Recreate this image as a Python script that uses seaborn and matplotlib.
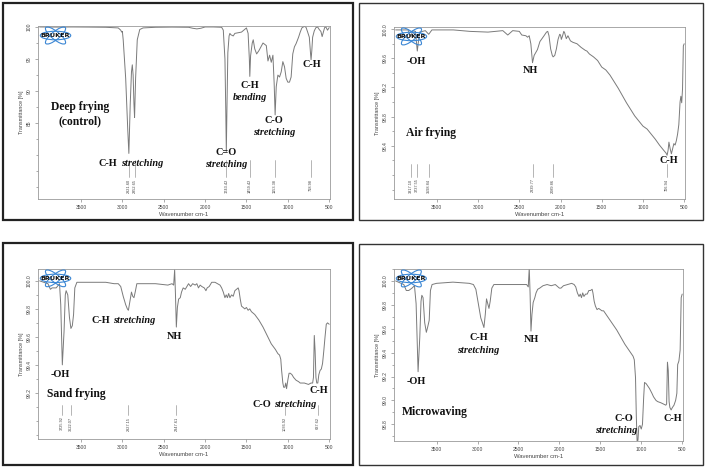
import seaborn as sns
import numpy as np
import pandas as pd
import matplotlib.pyplot as plt
from matplotlib.patches import Ellipse, Rectangle
from matplotlib.ticker import AutoMinorLocator, FixedLocator, NullFormatter

sns.set_theme(style="ticks")
plt.rcParams['font.family'] = ['Liberation Sans', 'DejaVu Sans']

# ---- spectra (wavenumber cm-1, transmittance %) ----
wn_deep = [4000, 3800, 3600, 3400, 3200, 3050, 3020, 3008, 3000, 2990, 2960, 2935,
           2921.6, 2905, 2890, 2880, 2870, 2860, 2852.6, 2840, 2820, 2790, 2750,
           2600, 2400, 2200, 2150, 2100, 2050, 2000, 1900, 1800, 1780, 1760, 1750,
           1743.4, 1735, 1725, 1710, 1700, 1690, 1660, 1640, 1600, 1560, 1500,
           1480, 1465, 1459.4, 1450, 1430, 1418, 1400, 1377, 1350, 1300, 1260,
           1240, 1220, 1200, 1180, 1165, 1153.4, 1140, 1120, 1100, 1080, 1060,
           1040, 1020, 1000, 980, 960, 940, 920, 900, 870, 850, 830, 800, 780,
           760, 740, 725, 718.98, 710, 700, 680, 660, 640, 620, 600, 585, 570,
           555, 540, 520, 500]
tr_deep = [100.0, 99.98, 100.0, 99.98, 99.95, 99.85, 99.5, 99.2, 99.3, 98.0, 92.0, 84.0,
           80.3, 88.0, 93.0, 94.1, 92.5, 88.0, 85.9, 92.0, 98.0, 99.6, 99.85,
           99.95, 99.98, 99.95, 99.8, 99.7, 99.8, 100.0, 100.0, 99.95, 99.5, 95.0, 87.0,
           80.6, 88.0, 96.0, 98.6, 99.0, 98.8, 98.6, 99.0, 99.1, 99.2, 99.85,
           99.0, 95.0, 92.3, 95.5, 97.5, 98.0, 96.6, 95.8, 96.3, 97.5, 97.1,
           94.7, 95.6, 94.5, 95.6, 91.2, 86.3, 90.7, 92.5, 92.2, 93.0, 94.6,
           93.8, 92.0, 91.4, 91.4, 92.2, 95.8, 96.9, 97.4, 98.4, 99.2, 99.85, 100.1, 99.95,
           99.2, 98.4, 95.8, 94.9, 96.3, 98.4, 99.4, 99.9, 100.0, 99.6, 99.3, 98.5, 99.2,
           99.9, 100.0, 99.5, 99.9]

wn_air = [4000, 3850, 3817.1, 3790, 3760, 3737.6, 3710, 3640, 3598.8, 3560, 3300,
          3100, 2880, 2700, 2640, 2580, 2500, 2470, 2420, 2400, 2380, 2360, 2339.8,
          2320, 2300, 2280, 2250, 2200, 2170, 2155, 2140, 2120, 2100, 2089.9, 2070,
          2050, 2030, 2010, 2000, 1990, 1975, 1960, 1950, 1930, 1910, 1880, 1850,
          1800, 1750, 1700, 1680, 1650, 1600, 1550, 1500, 1450, 1400, 1350, 1300,
          1250, 1200, 1150, 1100, 1050, 1000, 950, 900, 850, 800, 750, 720, 706.9,
          695, 685, 670, 655, 640, 625, 610, 595, 580, 565, 550, 540, 530, 520,
          510, 500]
tr_air = [99.99, 99.99, 99.9, 99.98, 99.97, 99.7, 99.96, 99.98, 99.93, 99.99, 99.99,
          99.97, 99.96, 99.98, 99.92, 99.98, 99.97, 99.92, 99.91, 99.89, 99.91, 99.8, 99.54,
          99.64, 99.68, 99.72, 99.83, 99.91, 99.96, 99.97, 99.91, 99.73, 99.64, 99.62, 99.64,
          99.73, 99.86, 99.93, 99.92, 99.86, 99.91, 99.97, 99.95, 99.87, 99.91, 99.84, 99.82,
          99.8, 99.75, 99.71, 99.7, 99.66, 99.62, 99.57, 99.48, 99.44, 99.37, 99.28, 99.19,
          99.09, 98.99, 98.9, 98.81, 98.74, 98.67, 98.63, 98.56, 98.49, 98.41, 98.34, 98.3, 98.27,
          98.34, 98.45, 98.36, 98.29, 98.36, 98.43, 98.41, 98.47, 98.56, 98.69, 99.0, 99.08, 98.99, 99.18,
          99.77, 99.8]

wn_sand = [4000, 3900, 3870, 3850, 3800, 3760, 3745, 3725.9, 3705, 3690, 3680, 3660,
           3640, 3622.1, 3605, 3590, 3575, 3550, 3400, 3200, 3100, 3050, 3020, 2990,
           2960, 2940, 2927.2, 2910, 2890, 2875, 2860, 2845, 2825, 2800, 2600, 2450,
           2400, 2380, 2368, 2358, 2347.6, 2335, 2320, 2300, 2285, 2265, 2240, 2220,
           2200, 2175, 2150, 2120, 2100, 2080, 2060, 2040, 2010, 1990, 1975, 1950,
           1920, 1880, 1850, 1820, 1800, 1780, 1760, 1745, 1730, 1715, 1700, 1680,
           1660, 1640, 1620, 1600, 1590, 1575, 1560, 1540, 1520, 1500, 1480, 1460,
           1440, 1400, 1350, 1300, 1250, 1200, 1150, 1120, 1100, 1085, 1075, 1060,
           1050, 1036.9, 1025, 1015, 1000, 985, 970, 950, 930, 900, 870, 850, 800,
           750, 720, 700, 690, 680, 670, 660, 650, 637.6, 625, 610, 595, 580, 565,
           550, 535, 520, 500]
tr_sand = [100.0, 99.98, 99.94, 99.95, 99.95, 99.98, 99.83, 99.40, 99.64, 99.9, 99.93, 99.9,
           99.74, 99.66, 99.68, 99.76, 99.95, 99.99, 99.99, 99.99, 99.98, 99.98, 99.96, 99.89,
           99.83, 99.8, 99.79, 99.85, 99.92, 99.89, 99.88, 99.92, 99.98, 99.98, 99.98, 99.97,
           99.98, 99.97, 100.08, 99.9, 99.67, 99.81, 99.87, 99.88, 99.92, 99.95, 99.94, 99.96,
           99.98, 99.96, 99.98, 99.97, 99.98, 99.95, 99.97, 99.96, 99.95, 99.93, 99.95, 99.96,
           99.99, 99.99, 99.98, 99.97, 99.95, 99.92, 99.88, 99.9, 99.88, 99.91, 99.88, 99.9,
           99.89, 99.93, 99.94, 99.95, 99.93, 99.87, 99.82, 99.81, 99.8, 99.81, 99.79, 99.8,
           99.78, 99.76, 99.72, 99.67, 99.61, 99.55, 99.51, 99.48, 99.47, 99.44, 99.36, 99.27,
           99.24, 99.24, 99.27, 99.23, 99.29, 99.34, 99.34, 99.33, 99.31, 99.29, 99.28, 99.27, 99.27,
           99.26, 99.27, 99.27, 99.31, 99.61, 99.5, 99.31, 99.27, 99.27, 99.33, 99.36, 99.37, 99.41, 99.5,
           99.6, 99.69, 99.70, 99.69]

wn_micro = [4000, 3900, 3870, 3840, 3800, 3770, 3750, 3725.9, 3705, 3690, 3680, 3665,
            3645, 3625, 3610, 3590, 3575, 3555, 3500, 3300, 3100, 3050, 3020, 2990,
            2960, 2940, 2921.6, 2905, 2890, 2875, 2860, 2845, 2825, 2800, 2600, 2450,
            2400, 2380, 2368, 2358, 2347, 2335, 2320, 2300, 2285, 2265, 2240, 2200,
            2150, 2100, 2050, 2000, 1980, 1950, 1900, 1850, 1820, 1800, 1780, 1760,
            1745, 1730, 1715, 1700, 1680, 1660, 1640, 1620, 1600, 1590, 1575, 1560,
            1540, 1520, 1500, 1480, 1460, 1440, 1400, 1350, 1300, 1250, 1200, 1150,
            1120, 1100, 1085, 1070, 1060, 1050, 1040, 1030, 1015, 1000, 985, 970,
            960, 940, 920, 900, 870, 850, 820, 800, 760, 730, 700, 690, 680, 670,
            660, 650, 635, 620, 600, 580, 565, 555, 540, 525, 512, 500]
tr_micro = [100.0, 99.97, 99.92, 99.92, 99.94, 99.96, 99.81, 99.24, 99.53, 99.83, 99.88, 99.86,
            99.65, 99.57, 99.61, 99.67, 99.92, 99.97, 99.98, 99.99, 99.98, 99.97, 99.93, 99.81,
            99.69, 99.65, 99.61, 99.72, 99.85, 99.81, 99.77, 99.83, 99.94, 99.97, 99.97, 99.97,
            99.97, 99.95, 100.11, 99.9, 99.58, 99.72, 99.82, 99.86, 99.9, 99.93, 99.94, 99.96,
            99.97, 99.96, 99.97, 99.94, 99.94, 99.96, 99.97, 99.98, 99.97, 99.95, 99.9, 99.87,
            99.89, 99.86, 99.9, 99.87, 99.89, 99.89, 99.92, 99.92, 99.93, 99.9, 99.83, 99.79,
            99.76, 99.77, 99.76, 99.75, 99.75, 99.73, 99.69, 99.64, 99.59, 99.53, 99.47, 99.42,
            99.39, 99.37, 99.34, 99.19, 98.86, 98.64, 98.67, 98.78, 98.79, 98.76, 98.8, 99.03,
            99.15, 99.14, 99.12, 99.1, 99.06, 99.03, 99.0, 98.99, 98.98, 98.97, 98.96, 98.97, 99.32, 99.25,
            98.99, 98.94, 98.92, 98.94, 98.96, 99.0, 99.06, 99.3, 99.33, 99.42, 99.86, 99.89]

# peak wavenumbers printed under each spectrum
peaks_deep = [2921.60, 2852.65, 1743.42, 1459.42, 1153.38, 718.98]
peaks_air = [3817.10, 3737.55, 3598.84, 2339.77, 2089.86, 706.94]
peaks_sand = [3725.92, 3622.07, 2927.15, 2347.61, 1036.92, 637.62]

SERIF = ['Liberation Serif', 'DejaVu Serif']
LINE = '#7a7a7a'
LAB = 7.4      # annotation size
TITLE = 8.4    # panel name size

fig = plt.figure(figsize=(7.09, 4.67), dpi=100)
fig.patch.set_facecolor('white')

# frames around each panel
fig.add_artist(Rectangle((3 / 709, 1 - 220 / 467), 350 / 709, 217 / 467, transform=fig.transFigure,
                         fill=False, lw=1.6, ec='#222222'))
fig.add_artist(Rectangle((359 / 709, 1 - 220 / 467), 344 / 709, 217 / 467, transform=fig.transFigure,
                         fill=False, lw=1.0, ec='#333333'))
fig.add_artist(Rectangle((3 / 709, 1 - 465 / 467), 350 / 709, 222 / 467, transform=fig.transFigure,
                         fill=False, lw=1.6, ec='#222222'))
fig.add_artist(Rectangle((359 / 709, 1 - 465 / 467), 344 / 709, 221 / 467, transform=fig.transFigure,
                         fill=False, lw=1.0, ec='#333333'))

ax1 = fig.add_axes([38 / 709, 1 - 199 / 467, 292 / 709, 173 / 467])
ax2 = fig.add_axes([394 / 709, 1 - 199 / 467, 291 / 709, 172 / 467])
ax3 = fig.add_axes([38 / 709, 1 - 439 / 467, 292 / 709, 170 / 467])
ax4 = fig.add_axes([394 / 709, 1 - 441 / 467, 289 / 709, 172 / 467])


def spectrum(ax, wn, tr, ylim, yticks, fmt):
    df = pd.DataFrame({'wn': wn, 'tr': tr})
    sns.lineplot(data=df, x='wn', y='tr', ax=ax, color=LINE, lw=0.7, sort=False, estimator=None)
    ax.set_xlim(4020, 490)
    ax.set_ylim(*ylim)
    ax.set_xticks([3500, 3000, 2500, 2000, 1500, 1000, 500])
    ax.yaxis.set_major_locator(FixedLocator(yticks))
    ax.set_yticklabels([fmt.format(v) for v in yticks], rotation=90, va='center')
    ax.yaxis.set_minor_locator(AutoMinorLocator(2))
    ax.yaxis.set_minor_formatter(NullFormatter())
    ax.tick_params(axis='both', which='major', labelsize=3.6, labelcolor='#444444',
                   color='#888888', length=2.5, width=0.5, pad=2)
    ax.tick_params(axis='y', which='minor', color='#888888', length=1.5, width=0.5)
    ax.set_xlabel('Wavenumber cm-1', fontsize=4.2, color='#444444', labelpad=1.5)
    ax.set_ylabel('Transmittance [%]', fontsize=3.9, color='#444444', labelpad=2)
    for sp in ax.spines.values():
        sp.set_color('#9a9a9a')
        sp.set_linewidth(0.6)
    ax.set_facecolor('white')

    # Bruker logo
    logo = ax.inset_axes([0.0, 0.89, 0.12, 0.11])
    logo.set_xlim(-1.9, 1.9)
    logo.set_ylim(-1.0, 1.0)
    logo.axis('off')
    for ang, w, h in [(0, 3.3, 0.9), (38, 2.7, 0.85), (-38, 2.7, 0.85)]:
        logo.add_patch(Ellipse((0, 0), w, h, angle=ang, fill=False, ec='#3a86d4', lw=0.8))
    logo.text(0, 0, 'BRUKER', ha='center', va='center', fontsize=4.6, weight='bold',
              family=['DejaVu Sans'], color='#111111')


def peak_marks(ax, peaks, y_top, y_bot, y_txt):
    for p in peaks:
        ax.plot([p, p], [y_top, y_bot], color='#999999', lw=0.5)
        ax.text(p, y_txt, f'{p:.2f}', rotation=90, ha='center', va='top', fontsize=2.8,
                color='#444444')


def label(ax, x, y, text, size=LAB, style='normal', ha='center', dx=0):
    ax.annotate(text, (x, y), xytext=(dx, 0), textcoords='offset points', ha=ha, va='center',
                fontsize=size, weight='bold', style=style, family=SERIF, color='#111111')


def mixed(ax, x, y, bold, ital, size=LAB):
    label(ax, x, y, bold, size=size, ha='right', dx=-1.1)
    label(ax, x, y, ital, size=size, style='italic', ha='left', dx=1.1)


# ---- Deep frying ----
spectrum(ax1, wn_deep, tr_deep, (73.2, 100.15), [100, 95, 90, 85], '{:.0f}')
peak_marks(ax1, peaks_deep, 79.3, 76.6, 76.3)
label(ax1, 3510, 87.5, 'Deep frying', size=TITLE)
label(ax1, 3510, 85.3, '(control)', size=TITLE)
mixed(ax1, 3040, 78.7, 'C-H', 'stretching')
label(ax1, 1750, 80.4, 'C=O')
label(ax1, 1750, 78.5, 'stretching', style='italic')
label(ax1, 1456, 90.9, 'C-H')
label(ax1, 1456, 89.0, 'bending', style='italic')
label(ax1, 1166, 85.4, 'C-O')
label(ax1, 1166, 83.5, 'stretching', style='italic')
label(ax1, 710, 94.1, 'C-H')

# ---- Air frying ----
spectrum(ax2, wn_air, tr_air, (97.67, 100.03), [100.0, 99.6, 99.2, 98.8, 98.4], '{:.1f}')
peak_marks(ax2, peaks_air, 98.15, 97.97, 97.95)
label(ax2, 3750, 99.56, '-OH')
label(ax2, 2362, 99.43, 'NH')
label(ax2, 3569, 98.58, 'Air frying', size=TITLE)
label(ax2, 683, 98.2, 'C-H')

# ---- Sand frying ----
spectrum(ax3, wn_sand, tr_sand, (98.87, 100.085), [100.0, 99.8, 99.6, 99.4, 99.2], '{:.1f}')
peak_marks(ax3, peaks_sand, 99.11, 99.04, 99.03)
label(ax3, 3754, 99.33, '-OH')
label(ax3, 3552, 99.19, 'Sand frying', size=TITLE)
mixed(ax3, 3130, 99.72, 'C-H', 'stretching')
label(ax3, 2375, 99.60, 'NH')
mixed(ax3, 1180, 99.12, 'C-O', 'stretching')
label(ax3, 629, 99.22, 'C-H')

# ---- Microwaving ----
spectrum(ax4, wn_micro, tr_micro, (98.66, 100.1), [100.0, 99.8, 99.6, 99.4, 99.2, 99.0, 98.8], '{:.1f}')
label(ax4, 3744, 99.16, '-OH')
label(ax4, 3520, 98.9, 'Microwaving', size=TITLE)
label(ax4, 2990, 99.53, 'C-H')
label(ax4, 2990, 99.42, 'stretching', style='italic')
label(ax4, 2340, 99.51, 'NH')
label(ax4, 1210, 98.85, 'C-O')
label(ax4, 1300, 98.75, 'stretching', style='italic')
label(ax4, 620, 98.85, 'C-H')

plt.savefig('out.png', dpi=100)
